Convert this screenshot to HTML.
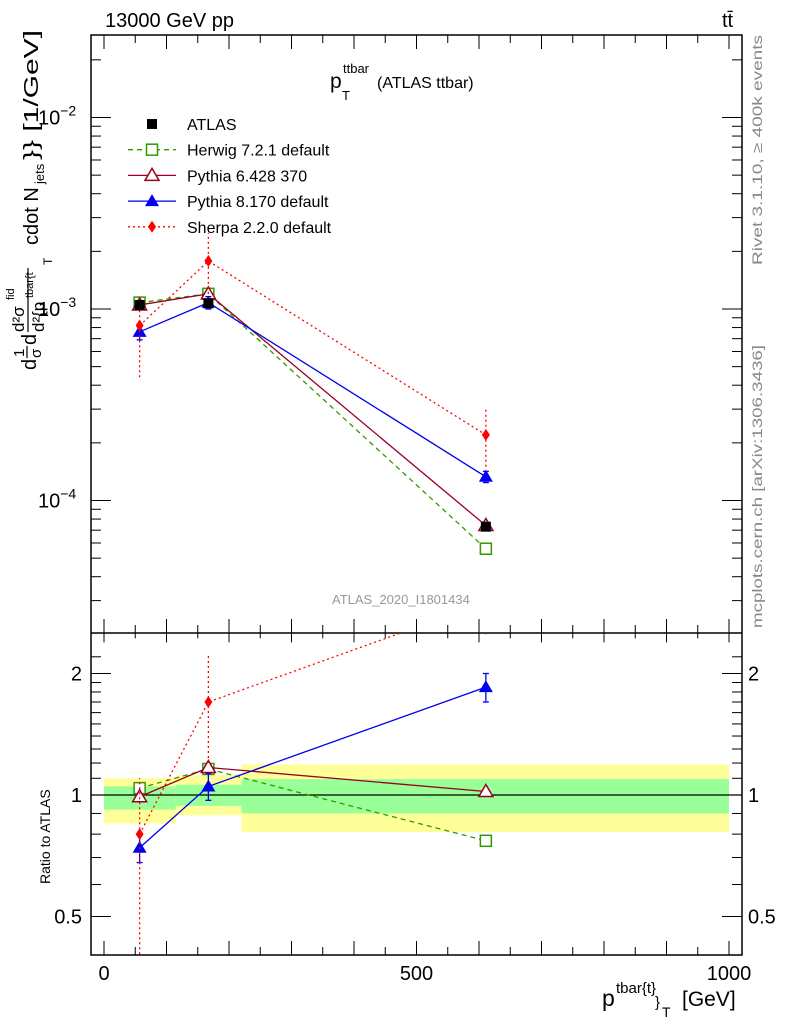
<!DOCTYPE html>
<html><head><meta charset="utf-8"><style>
body{margin:0;background:#fff}
svg{display:block;font-family:"Liberation Sans",sans-serif}
</style></head><body>
<svg id="c" width="786" height="1024" viewBox="0 0 786 1024">
<g id="bands"></g>
<g id="axes"></g>
<g id="series"></g>
<g id="texts">
<text x="105" y="27" font-size="20">13000 GeV pp</text>
<text x="722" y="27" font-size="20">tt̄</text>
<g>
<text x="330" y="88" font-size="21">p</text>
<text x="343" y="73" font-size="13">ttbar</text>
<text x="342" y="100" font-size="13">T</text>
<text x="377" y="88" font-size="16">(ATLAS ttbar)</text>
</g>
<text x="332" y="604" font-size="13" fill="#999">ATLAS_2020_I1801434</text>
<text transform="translate(762,265) rotate(-90)" font-size="14" fill="#888" textLength="230" lengthAdjust="spacingAndGlyphs">Rivet 3.1.10, ≥ 400k events</text>
<text transform="translate(762,628) rotate(-90)" font-size="14" fill="#888" textLength="283" lengthAdjust="spacingAndGlyphs">mcplots.cern.ch [arXiv:1306.3436]</text>
<text transform="translate(50,884) rotate(-90)" font-size="14">Ratio to ATLAS</text>
<g>
<text x="602" y="1006" font-size="23">p</text>
<text x="616" y="993" font-size="15">tbar{t}</text>
<text x="655" y="1007" font-size="15">}</text>
<text x="662" y="1017" font-size="14">T</text>
<text x="682" y="1006" font-size="21">[GeV]</text>
</g>
<g transform="translate(0,370) rotate(-90)">
<text x="0" y="36" font-size="20">d</text>
<text x="13" y="24" font-size="15">1</text>
<line x1="12" x2="24" y1="27" y2="27" stroke="#000" stroke-width="1.2"/>
<text x="12" y="41" font-size="15">σ</text>
<text x="25" y="36" font-size="20">d</text>
<text x="38" y="24" font-size="17">d²σ</text>
<text x="70" y="14" font-size="11">fid</text>
<line x1="38" x2="102" y1="28" y2="28" stroke="#000" stroke-width="1.2"/>
<text x="38" y="44" font-size="17">d²{p</text>
<text x="72" y="33" font-size="11">tbar{t</text>
<text x="105" y="52" font-size="12">T</text>
<text x="125" y="38" font-size="20">cdot N</text>
<text x="186" y="44" font-size="13">jets</text>
<text x="210" y="38" font-size="20" textLength="130" lengthAdjust="spacingAndGlyphs">}} [1/GeV]</text>
</g>
</g>
<g id="legend"></g>
</svg>
<script>
const NS="http://www.w3.org/2000/svg";
const xs=[57,167,611];
const atlas=[1.05e-3,1.07e-3,7.3e-5];
const herwig=[1.08e-3,1.2e-3,5.6e-5];
const py6=[1.05e-3,1.2e-3,7.4e-5];
const py8=[7.6e-4,1.08e-3,1.33e-4];
const py8Err=[[6.9e-4,8.3e-4],[1.0e-3,1.16e-3],[1.24e-4,1.42e-4]];
const sherpa=[8.2e-4,1.78e-3,2.2e-4];
const sherpaErr=[[4.4e-4,1.1e-3],[1.2e-3,2.5e-3],[1.5e-4,3.0e-4]];
const rHerwig=[1.04,1.16,0.77];
const rPy6=[0.99,1.17,1.02];
const rPy8=[0.74,1.05,1.85];
const rPy8Err=[[0.68,0.8],[0.97,1.13],[1.7,2.0]];
const rSherpa=[0.8,1.7,3.0];
const rSherpaErr=[[0.37,1.1],[1.2,2.25],[2.5,3.5]];
const bandEdges=[0,115,220,1000];
const yellowLo=[0.85,0.89,0.81], yellowHi=[1.10,1.12,1.19];
const greenLo=[0.92,0.94,0.90], greenHi=[1.05,1.06,1.095];

const X=v=>104+v*0.625;
const Y=v=>309-191.5*Math.log10(v/1e-3);
const R=v=>795-121.5*Math.log2(v);
const L=91,Rt=742,T=35,M=633,B=955;
function el(p,tag,a){const e=document.createElementNS(NS,tag);for(const k in a)e.setAttribute(k,a[k]);p.appendChild(e);return e;}
const axes=document.getElementById('axes'),bands=document.getElementById('bands'),ser=document.getElementById('series'),leg=document.getElementById('legend');

for(let i=0;i<3;i++){
 let r=el(bands,'rect',{x:X(bandEdges[i]),y:R(yellowHi[i]),width:X(bandEdges[i+1])-X(bandEdges[i]),height:R(yellowLo[i])-R(yellowHi[i]),fill:'#ffff99'});
 
 let g=el(bands,'rect',{x:X(bandEdges[i]),y:R(greenHi[i]),width:X(bandEdges[i+1])-X(bandEdges[i]),height:R(greenLo[i])-R(greenHi[i]),fill:'#99ff99'});
 
}
el(axes,'line',{x1:L,x2:Rt,y1:R(1),y2:R(1),stroke:'#000','stroke-width':1.2});
el(axes,'rect',{x:L,y:T,width:Rt-L,height:B-T,fill:'none',stroke:'#000','stroke-width':1.5});
el(axes,'line',{x1:L,x2:Rt,y1:M,y2:M,stroke:'#000','stroke-width':1.5});
for(let v=0;v<=1050;v+=50){const x=X(v);if(x>Rt)break;const big=v%100==0?1:0;
 const h=big?14:8;
 [[B,-h],[M,-h],[M,h/1.5],[T,h]].forEach(([y0,d])=>el(axes,'line',{x1:x,x2:x,y1:y0,y2:y0+d,stroke:'#000'}));}
[0,500,1000].forEach(v=>{const t=el(axes,'text',{x:X(v),y:980,'font-size':20,'text-anchor':'middle'});t.textContent=v;});
for(let e=-5;e<=-2;e++)for(let m=1;m<10;m++){const v=m*Math.pow(10,e);const y=Y(v);if(y<T||y>M)continue;const w=m==1?20:10;
 el(axes,'line',{x1:L,x2:L+w,y1:y,y2:y,stroke:'#000'});el(axes,'line',{x1:Rt,x2:Rt-w,y1:y,y2:y,stroke:'#000'});}
[-2,-3,-4].forEach(e=>{const t=el(axes,'text',{x:38,y:Y(Math.pow(10,e))+7,'font-size':20});t.innerHTML='10<tspan font-size="14" dy="-9">−'+(-e)+'</tspan>';});
[0.4,0.5,0.6,0.7,0.8,0.9,1,1.1,1.2,1.3,1.4,1.5,1.6,1.7,1.8,1.9,2,2.2].forEach(v=>{const y=R(v);if(y<M||y>B)return;const w=[0.5,1,2].includes(v)?20:10;
 el(axes,'line',{x1:L,x2:L+w,y1:y,y2:y,stroke:'#000'});el(axes,'line',{x1:Rt,x2:Rt-w,y1:y,y2:y,stroke:'#000'});});
[[0.5,'0.5'],[1,'1'],[2,'2']].forEach(([v,s])=>{let t=el(axes,'text',{x:82,y:R(v)+7,'font-size':20,'text-anchor':'end'});t.textContent=s;
 t=el(axes,'text',{x:748,y:R(v)+7,'font-size':20});t.textContent=s;});

const clipM=el(document.getElementById('c'),'clipPath',{id:'cm'});el(clipM,'rect',{x:L,y:T,width:Rt-L,height:M-T});
const clipR=el(document.getElementById('c'),'clipPath',{id:'cr'});el(clipR,'rect',{x:L,y:M,width:Rt-L,height:B-M});

function marker(g,type,col,x,y){
 if(type=='sq')el(g,'rect',{x:x-5.5,y:y-5.5,width:11,height:11,fill:'#fff',stroke:col,'stroke-width':1.5});
 if(type=='fsq')el(g,'rect',{x:x-5,y:y-5,width:10,height:10,fill:col});
 if(type=='tri')el(g,'polygon',{points:`${x},${y-7} ${x-7},${y+5} ${x+7},${y+5}`,fill:'#fff',stroke:col,'stroke-width':1.5});
 if(type=='ftri')el(g,'polygon',{points:`${x},${y-7} ${x-7},${y+5} ${x+7},${y+5}`,fill:col});
 if(type=='dia')el(g,'polygon',{points:`${x},${y-6} ${x-4},${y} ${x},${y+6} ${x+4},${y}`,fill:col});
}
const styles={herwig:['#339900','5,4','sq'],py6:['#990022','','tri'],py8:['#0000ee','','ftri'],sherpa:['#ff0000','2,3','dia']};
function draw(name,vals,errs,fy,clip){
 const [col,dash,mk]=styles[name];
 const g=el(ser,'g',{'clip-path':clip});
 
 el(g,'polyline',{points:vals.map((v,i)=>X(xs[i])+','+fy(v)).join(' '),fill:'none',stroke:col,'stroke-width':1.3,'stroke-dasharray':dash});
 vals.forEach((v,i)=>{
  if(errs){const x=X(xs[i]);el(g,'line',{x1:x,x2:x,y1:fy(errs[i][0]),y2:fy(errs[i][1]),stroke:col,'stroke-width':1.3,'stroke-dasharray':dash});
   if(!dash){[0,1].forEach(j=>el(g,'line',{x1:x-3,x2:x+3,y1:fy(errs[i][j]),y2:fy(errs[i][j]),stroke:col,'stroke-width':1.3}));}}
  marker(g,mk,col,X(xs[i]),fy(v));});
}
draw('herwig',herwig,null,Y,'url(#cm)');
draw('py6',py6,null,Y,'url(#cm)');
draw('py8',py8,py8Err,Y,'url(#cm)');
draw('sherpa',sherpa,sherpaErr,Y,'url(#cm)');
const ga=el(ser,'g',{});
atlas.forEach((v,i)=>marker(ga,'fsq','#000',X(xs[i]),Y(v)));
draw('herwig',rHerwig,null,R,'url(#cr)');
draw('py6',rPy6,null,R,'url(#cr)');
draw('py8',rPy8,rPy8Err,R,'url(#cr)');
draw('sherpa',rSherpa,rSherpaErr,R,'url(#cr)');

const entries=[['ATLAS',null],['Herwig 7.2.1 default','herwig'],['Pythia 6.428 370','py6'],['Pythia 8.170 default','py8'],['Sherpa 2.2.0 default','sherpa']];
entries.forEach(([lab,k],i)=>{const y=124+i*25.7;
 const g=el(leg,'g',{});
 if(k){const [col,dash,mk]=styles[k];el(g,'line',{x1:128,x2:176,y1:y,y2:y,stroke:col,'stroke-width':1.3,'stroke-dasharray':dash});marker(g,mk,col,152,y);}
 else marker(g,'fsq','#000',152,y);
 const t=el(g,'text',{x:187,y:y+6,'font-size':16});t.textContent=lab;});
</script>
</body></html>
